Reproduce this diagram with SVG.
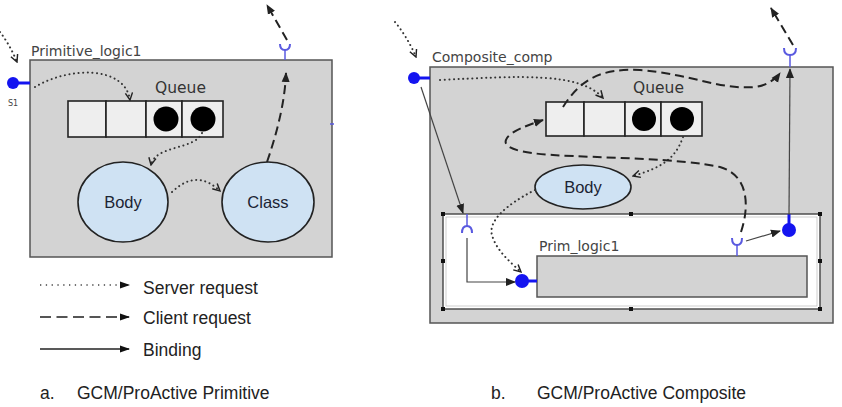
<svg xmlns="http://www.w3.org/2000/svg" width="842" height="407" viewBox="0 0 842 407">
<style>
.box{fill:#d3d3d3;stroke:#555;stroke-width:1.5}
.cell{fill:#eeeeee;stroke:#222;stroke-width:1.6}
.ball{fill:#000}
.ell{fill:#cfe2f3;stroke:#222;stroke-width:1.6}
.lbl{font-family:"DejaVu Sans",sans-serif;font-size:14px;fill:#444}
.q{font-family:"DejaVu Sans",sans-serif;font-size:15.5px;fill:#333}
.et{font-family:"Liberation Sans",Arial,sans-serif;font-size:16.5px;fill:#1c2433;text-anchor:middle}
.leg{font-family:"Liberation Sans",Arial,sans-serif;font-size:17.5px;fill:#222}
.dot{fill:none;stroke:#333;stroke-width:2;stroke-dasharray:0.1 4.5;stroke-linecap:round}
.dash{fill:none;stroke:#222;stroke-width:2;stroke-dasharray:9 5}
.bind{fill:none;stroke:#444;stroke-width:1.2}
.port{fill:#1414f0}
.pstem{stroke:#1414f0;stroke-width:3}
.rec{fill:none;stroke:#5a5ae0;stroke-width:2}
.h{fill:#111}
</style>
<defs>
<marker id="ah" viewBox="0 0 10 10" refX="9" refY="5" markerWidth="10" markerHeight="10" markerUnits="userSpaceOnUse" orient="auto"><path d="M0,1 L10,5 L0,9 z" fill="#222"/></marker>
<marker id="av" viewBox="0 0 10 10" refX="9" refY="5" markerWidth="9" markerHeight="9" markerUnits="userSpaceOnUse" orient="auto"><path d="M1,1 L9,5 L1,9" fill="none" stroke="#222" stroke-width="1.6"/></marker>
<marker id="al" viewBox="0 0 10 10" refX="9" refY="5" markerWidth="10" markerHeight="10" markerUnits="userSpaceOnUse" orient="auto"><path d="M0,1.5 L10,5 L0,8.5 z" fill="#111"/></marker>
</defs>

<!-- Left panel: primitive -->
<g id="primitive">
<text class="lbl" x="31" y="56">Primitive_logic1</text>
<rect class="box" x="30" y="60" width="302" height="197"/>
<line x1="330" y1="124" x2="334" y2="124" stroke="#5a5ae0" stroke-width="1.5"/>
</g>
<g id="s1-port">
<line class="pstem" x1="18" y1="83" x2="30" y2="83"/>
<circle class="port" cx="13" cy="83" r="6"/>
<text x="8" y="106" font-family="DejaVu Sans,sans-serif" font-size="8" fill="#444">S1</text>
</g>
<g id="queue-a">
<text class="q" x="155" y="93">Queue</text>
<rect class="cell" x="68" y="101" width="38" height="36"/>
<rect class="cell" x="106" y="101" width="40" height="36"/>
<rect class="cell" x="146" y="101" width="36" height="36"/>
<rect class="cell" x="182" y="101" width="41" height="36"/>
<circle class="ball" cx="166" cy="119" r="12.5"/>
<circle class="ball" cx="203" cy="119" r="12.5"/>
</g>
<g id="body-a">
<ellipse class="ell" cx="123" cy="202" rx="45" ry="40"/>
<text class="et" x="123" y="208">Body</text>
</g>
<g id="class-a">
<ellipse class="ell" cx="268" cy="202" rx="46" ry="40"/>
<text class="et" x="268" y="208">Class</text>
</g>
<g id="client-port-a">
<line x1="285" y1="50" x2="285" y2="60" stroke="#5a5ae0" stroke-width="1.5"/>
<path class="rec" d="M280,44 Q280,50 285,50 Q290,50 290,44"/>
</g>

<!-- Right panel: composite -->
<g id="composite">
<text class="lbl" x="432" y="62">Composite_comp</text>
<rect class="box" x="430" y="67" width="403" height="256"/>
</g>
<g id="membrane">
<rect x="443" y="214" width="377" height="95" fill="#fff" stroke="#444" stroke-width="1.4"/>
<rect x="446" y="217" width="371" height="89" fill="none" stroke="#bbb" stroke-width="0.7"/>
<rect class="h" x="441" y="212" width="4" height="4"/>
<rect class="h" x="629" y="212" width="4" height="4"/>
<rect class="h" x="818" y="212" width="4" height="4"/>
<rect class="h" x="441" y="259" width="4" height="4"/>
<rect class="h" x="818" y="259" width="4" height="4"/>
<rect class="h" x="441" y="307" width="4" height="4"/>
<rect class="h" x="629" y="307" width="4" height="4"/>
<rect class="h" x="818" y="307" width="4" height="4"/>
</g>
<g id="comp-port">
<line class="pstem" x1="419" y1="78" x2="430" y2="78"/>
<circle class="port" cx="414" cy="78" r="6"/>
</g>
<g id="comp-client-port">
<line x1="790" y1="55" x2="790" y2="67" stroke="#5a5ae0" stroke-width="1.5"/>
<path class="rec" d="M784,48 Q784,55 790,55 Q796,55 796,48"/>
</g>
<g id="queue-b">
<text class="q" x="633" y="93">Queue</text>
<rect class="cell" x="546" y="102" width="38" height="34"/>
<rect class="cell" x="584" y="102" width="41" height="34"/>
<rect class="cell" x="625" y="102" width="36" height="34"/>
<rect class="cell" x="661" y="102" width="41" height="34"/>
<circle class="ball" cx="644" cy="119" r="12"/>
<circle class="ball" cx="682" cy="119" r="12"/>
</g>
<g id="body-b">
<ellipse class="ell" cx="583" cy="187" rx="48" ry="22"/>
<text class="et" x="583" y="193">Body</text>
</g>
<g id="inner-server-port">
<line x1="467" y1="214" x2="467" y2="226" stroke="#5a5ae0" stroke-width="1.5"/>
<path class="rec" d="M462,233 Q462,226 467,226 Q472,226 472,233"/>
</g>
<g id="prim-logic1">
<text class="lbl" x="539" y="251">Prim_logic1</text>
<rect class="box" x="537" y="256" width="270" height="41"/>
</g>
<g id="prim-server-port">
<line class="pstem" x1="526" y1="281" x2="537" y2="281"/>
<circle class="port" cx="522" cy="281" r="7"/>
</g>
<g id="prim-client-port">
<line x1="737" y1="245" x2="737" y2="256" stroke="#5a5ae0" stroke-width="1.5"/>
<path class="rec" d="M732,238 Q732,245 737,245 Q742,245 742,238"/>
</g>
<g id="inner-client-port">
<line class="pstem" x1="789" y1="214" x2="789" y2="224"/>
<circle class="port" cx="789" cy="230" r="7"/>
</g>

<!-- Connectors -->
<g id="connectors">
<path class="dot" d="M0,32 Q10,45 17,62" marker-end="url(#av)"/>
<path class="dot" d="M35,87 C70,66 125,66 130,100" marker-end="url(#av)"/>
<path class="dot" d="M202,133 C195,150 155,145 151,165" marker-end="url(#av)"/>
<path class="dot" d="M172,192 C190,175 205,177 220,191" marker-end="url(#av)"/>
<path class="dash" d="M267,162 C278,130 285,100 286,73" marker-end="url(#ah)"/>
<path class="dash" d="M287,40 L267,5" marker-end="url(#ah)"/>

<path class="dot" d="M395,22 Q408,38 416,57" marker-end="url(#av)"/>
<path class="dot" d="M440,80 C520,76 580,72 603,98" marker-end="url(#av)"/>
<path class="dot" d="M683,137 C675,160 660,168 633,176" marker-end="url(#av)"/>
<path class="dot" d="M535,190 C505,205 488,222 492,235 C496,250 510,262 521,272" marker-end="url(#av)"/>
<path class="bind" d="M421,87 L463,213" marker-end="url(#ah)"/>
<path class="bind" d="M467,238 L467,282 L515,282" marker-end="url(#ah)"/>
<path class="dash" d="M741,232 C750,205 748,175 720,167 C680,158 600,158 553,155 C520,153 500,148 507,138 C512,131 525,126 543,120" marker-end="url(#ah)"/>
<path class="dash" d="M563,107 C580,80 600,68 640,70 C690,74 720,90 755,87 C765,86 775,80 780,73" marker-end="url(#ah)"/>
<path class="bind" d="M789,215 L790,69" marker-end="url(#ah)"/>
<path class="bind" d="M746,241 L780,231" marker-end="url(#ah)"/>
<path class="dash" d="M793,45 L771,8" marker-end="url(#ah)"/>
</g>

<!-- Legend -->
<g id="legend">
<line x1="40" y1="285" x2="129" y2="285" stroke="#444" stroke-width="1.3" stroke-dasharray="1.3 4.5" marker-end="url(#al)"/>
<text class="leg" x="143" y="294">Server request</text>
<line x1="40" y1="317" x2="129" y2="317" stroke="#555" stroke-width="2.2" stroke-dasharray="11 5.5" marker-end="url(#al)"/>
<text class="leg" x="143" y="324">Client request</text>
<line x1="40" y1="349" x2="129" y2="349" stroke="#222" stroke-width="1.5" marker-end="url(#al)"/>
<text class="leg" x="143" y="356">Binding</text>
</g>
<g id="captions">
<text class="leg" x="40" y="399">a.</text>
<text class="leg" x="77" y="399">GCM/ProActive Primitive</text>
<text class="leg" x="491" y="399">b.</text>
<text class="leg" x="537" y="399">GCM/ProActive Composite</text>
</g>
</svg>
